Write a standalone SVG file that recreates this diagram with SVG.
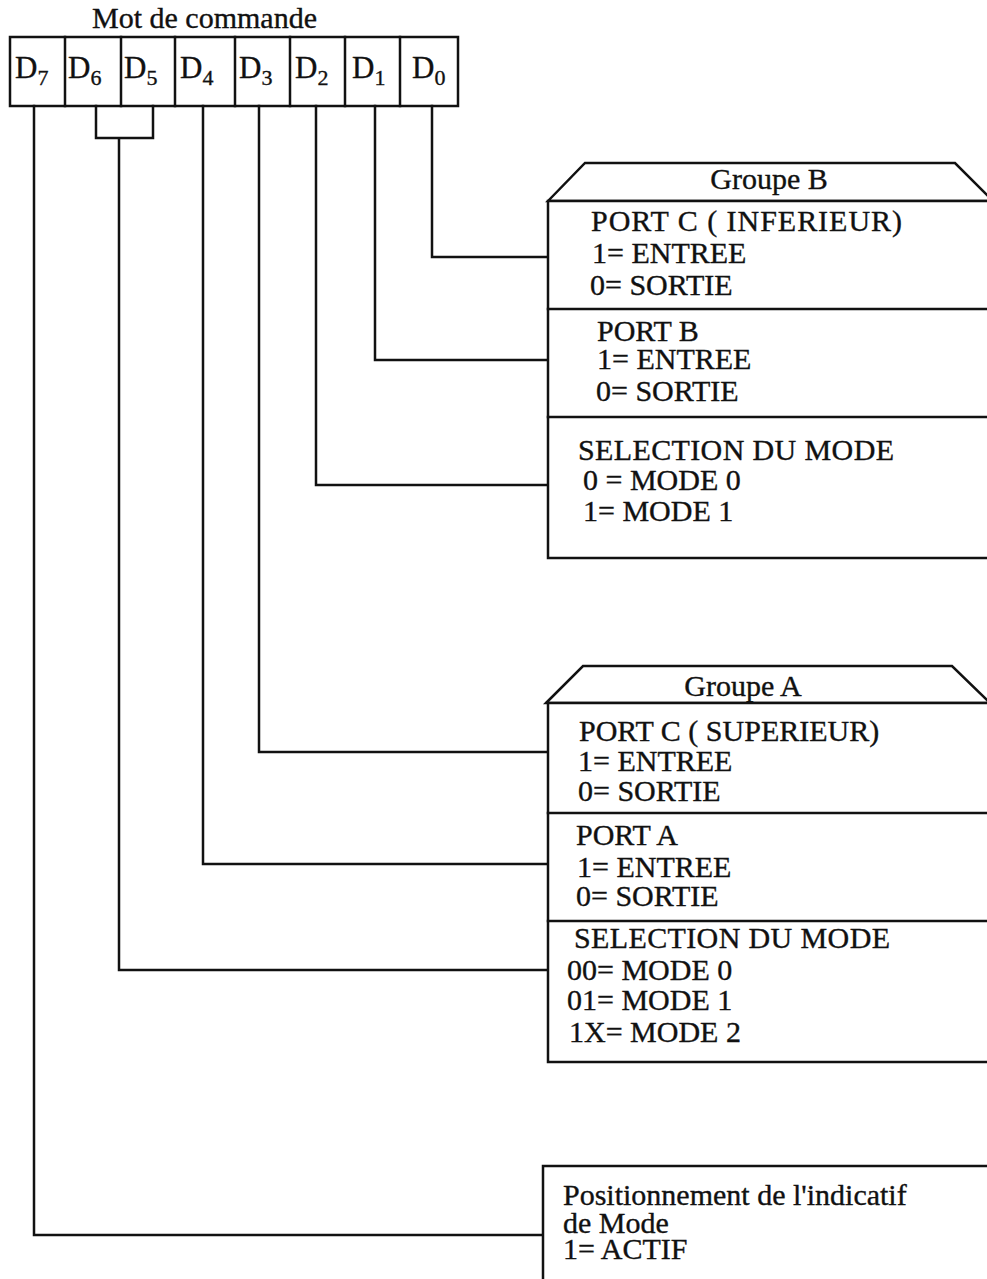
<svg xmlns="http://www.w3.org/2000/svg" width="987" height="1279" viewBox="0 0 987 1279">
<style>
  .ln { fill: none; stroke: #111; stroke-width: 2.5; stroke-linejoin: miter; stroke-linecap: square; }
  .bx { fill: #fff; stroke: #111; stroke-width: 2.5; }
  .t { font-family: "Liberation Serif", "Times New Roman", serif; font-size: 30px; fill: #111; stroke: #111; stroke-width: 0.35; }
  .d { font-family: "Liberation Serif", "Times New Roman", serif; font-size: 31px; fill: #111; stroke: #111; stroke-width: 0.35; }
  .s { font-size: 22px; }
</style>
<rect width="987" height="1279" fill="#fff"/>

<g id="register">
  <text class="t" x="92" y="28">Mot de commande</text>
  <rect class="bx" x="10" y="37" width="448" height="69"/>
  <path class="ln" d="M65 37V106M121 37V106M175 37V106M235 37V106M290 37V106M345 37V106M400 37V106"/>
  <text class="d" x="15" y="78">D<tspan class="s" dy="7">7</tspan></text>
  <text class="d" x="68" y="78">D<tspan class="s" dy="7">6</tspan></text>
  <text class="d" x="124" y="78">D<tspan class="s" dy="7">5</tspan></text>
  <text class="d" x="180" y="78">D<tspan class="s" dy="7">4</tspan></text>
  <text class="d" x="239" y="78">D<tspan class="s" dy="7">3</tspan></text>
  <text class="d" x="295" y="78">D<tspan class="s" dy="7">2</tspan></text>
  <text class="d" x="352" y="78">D<tspan class="s" dy="7">1</tspan></text>
  <text class="d" x="412" y="78">D<tspan class="s" dy="7">0</tspan></text>
</g>

<g id="connectors">
  <path class="ln" d="M432 106V257H548"/>
  <path class="ln" d="M375 106V360H548"/>
  <path class="ln" d="M316 106V485H548"/>
  <path class="ln" d="M259 106V752H548"/>
  <path class="ln" d="M203 106V864H548"/>
  <path class="ln" d="M96 106V138H153V106M119 138V970H548"/>
  <path class="ln" d="M34 106V1235H543"/>
</g>

<g id="groupe-b">
  <path class="bx" d="M548 201L585 163H955L993 201Z"/>
  <rect class="bx" x="548" y="201" width="450" height="357"/>
  <path class="ln" d="M548 309H995M548 417H995"/>
  <text class="t" x="769" y="189" text-anchor="middle">Groupe B</text>
  <text class="t" x="591" y="231" textLength="311">PORT C ( INFERIEUR)</text>
  <text class="t" x="592" y="263">1= ENTREE</text>
  <text class="t" x="590" y="295">0= SORTIE</text>
  <text class="t" x="597" y="341">PORT B</text>
  <text class="t" x="597" y="369">1= ENTREE</text>
  <text class="t" x="596" y="401">0= SORTIE</text>
  <text class="t" x="578" y="460" textLength="316">SELECTION DU MODE</text>
  <text class="t" x="583" y="490">0 = MODE 0</text>
  <text class="t" x="583" y="521">1= MODE 1</text>
</g>

<g id="groupe-a">
  <path class="bx" d="M546 703L583 666H952L990 703Z"/>
  <rect class="bx" x="548" y="703" width="450" height="359"/>
  <path class="ln" d="M548 813H995M548 921H995"/>
  <text class="t" x="743" y="696" text-anchor="middle">Groupe A</text>
  <text class="t" x="579" y="741">PORT C ( SUPERIEUR)</text>
  <text class="t" x="578" y="771">1= ENTREE</text>
  <text class="t" x="578" y="801">0= SORTIE</text>
  <text class="t" x="576" y="845">PORT A</text>
  <text class="t" x="577" y="877">1= ENTREE</text>
  <text class="t" x="576" y="906">0= SORTIE</text>
  <text class="t" x="574" y="948" textLength="316">SELECTION DU MODE</text>
  <text class="t" x="567" y="980">00= MODE 0</text>
  <text class="t" x="567" y="1010">01= MODE 1</text>
  <text class="t" x="569" y="1042">1X= MODE 2</text>
</g>

<g id="indicatif-mode">
  <rect class="bx" x="543" y="1166" width="460" height="130"/>
  <text class="t" x="563" y="1205">Positionnement de l'indicatif</text>
  <text class="t" x="563" y="1233">de Mode</text>
  <text class="t" x="563" y="1259">1= ACTIF</text>
</g>
</svg>
